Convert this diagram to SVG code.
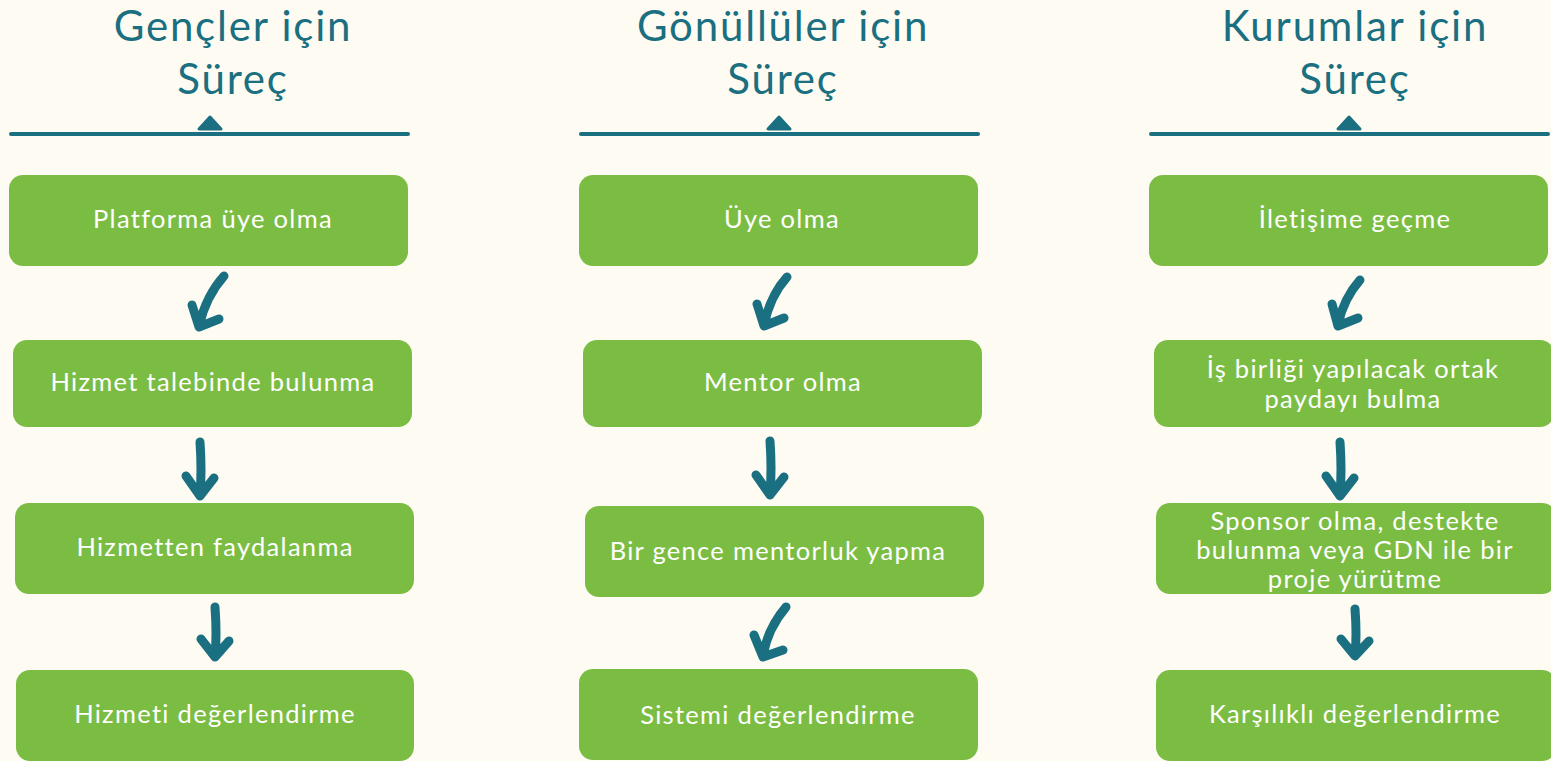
<svg xmlns="http://www.w3.org/2000/svg" width="1551" height="761" viewBox="0 0 1551 761">
<style>
.bg{fill:#fefbf3}
.box{fill:#7bbd43}
.bt{fill:#ffffff;font-family:Lato,"Noto Sans",sans-serif;font-size:25.5px;letter-spacing:1.3px;text-anchor:middle}
.ht{fill:#1a6f80;font-family:Lato,"Noto Sans",sans-serif;font-size:42px;letter-spacing:1.8px;text-anchor:middle}
.rule{stroke:#1a6f80;stroke-width:4;stroke-linecap:round}
.tri{fill:#1a6f80;stroke:#1a6f80;stroke-width:3;stroke-linejoin:round}
.arr{fill:none;stroke:#1a6f80;stroke-width:9;stroke-linecap:round;stroke-linejoin:round}
</style>
<rect class="bg" x="0" y="0" width="1551" height="761"/>
<g id="header-1">
<text class="ht" x="233" y="41">Gençler için</text>
<text class="ht" x="233" y="94">Süreç</text>
<line class="rule" x1="11" y1="134" x2="408" y2="134"/>
<polygon class="tri" points="199,129 221,129 210,117"/>
</g>
<g id="header-2">
<text class="ht" x="783" y="41">Gönüllüler için</text>
<text class="ht" x="783" y="94">Süreç</text>
<line class="rule" x1="581" y1="134" x2="978" y2="134"/>
<polygon class="tri" points="768,129 790,129 779,117"/>
</g>
<g id="header-3">
<text class="ht" x="1355" y="41">Kurumlar için</text>
<text class="ht" x="1355" y="94">Süreç</text>
<line class="rule" x1="1151" y1="134" x2="1548" y2="134"/>
<polygon class="tri" points="1338,129 1360,129 1349,117"/>
</g>
<g id="n1-1"><rect class="box" x="9" y="175" width="399" height="91" rx="14"/><text class="bt" x="213" y="228">Platforma üye olma</text></g>
<g id="n1-2"><rect class="box" x="13" y="340" width="399" height="87" rx="14"/><text class="bt" x="213" y="391">Hizmet talebinde bulunma</text></g>
<g id="n1-3"><rect class="box" x="15" y="503" width="399" height="91" rx="14"/><text class="bt" x="215" y="556">Hizmetten faydalanma</text></g>
<g id="n1-4"><rect class="box" x="16" y="670" width="398" height="91" rx="14"/><text class="bt" x="215" y="723">Hizmeti değerlendirme</text></g>
<g id="n2-1"><rect class="box" x="579" y="175" width="399" height="91" rx="14"/><text class="bt" x="782" y="228">Üye olma</text></g>
<g id="n2-2"><rect class="box" x="583" y="340" width="399" height="87" rx="14"/><text class="bt" x="783" y="391">Mentor olma</text></g>
<g id="n2-3"><rect class="box" x="585" y="506" width="399" height="91" rx="14"/><text class="bt" x="778" y="560">Bir gence mentorluk yapma</text></g>
<g id="n2-4"><rect class="box" x="579" y="669" width="399" height="91" rx="14"/><text class="bt" x="778" y="724">Sistemi değerlendirme</text></g>
<g id="n3-1"><rect class="box" x="1149" y="175" width="399" height="91" rx="14"/><text class="bt" x="1355" y="228">İletişime geçme</text></g>
<g id="n3-2"><rect class="box" x="1154" y="340" width="400" height="87" rx="14"/><text class="bt" x="1353" y="378">İş birliği yapılacak ortak</text><text class="bt" x="1353" y="408">paydayı bulma</text></g>
<g id="n3-3"><rect class="box" x="1156" y="503" width="400" height="91" rx="14"/><text class="bt" x="1355" y="530">Sponsor olma, destekte</text><text class="bt" x="1355" y="559">bulunma veya GDN ile bir</text><text class="bt" x="1355" y="588">proje yürütme</text></g>
<g id="n3-4"><rect class="box" x="1156" y="670" width="400" height="91" rx="14"/><text class="bt" x="1355" y="723">Karşılıklı değerlendirme</text></g>
<g id="connectors">
<path class="arr" d="M224,276 Q206,296 199,326 M192,305 L199,327 L219,319"/>
<path class="arr" d="M200,442 Q202,470 200,496 M186,476 L200,496 L214,478"/>
<path class="arr" d="M215,607 Q217,635 215,657 M201,639 L215,657 L229,641"/>
<path class="arr" d="M787,277 Q770,296 764,325 M757,304 L764,326 L784,318"/>
<path class="arr" d="M770,441 Q772,469 770,495 M756,475 L770,495 L784,477"/>
<path class="arr" d="M786,607 Q768,628 763,655 M754,635 L763,657 L783,650"/>
<path class="arr" d="M1360,280 Q1344,298 1338,324 M1332,304 L1338,326 L1358,318"/>
<path class="arr" d="M1340,442 Q1342,470 1340,496 M1326,476 L1340,496 L1354,478"/>
<path class="arr" d="M1355,609 Q1357,635 1355,656 M1341,639 L1355,656 L1369,641"/>
</g>
</svg>
